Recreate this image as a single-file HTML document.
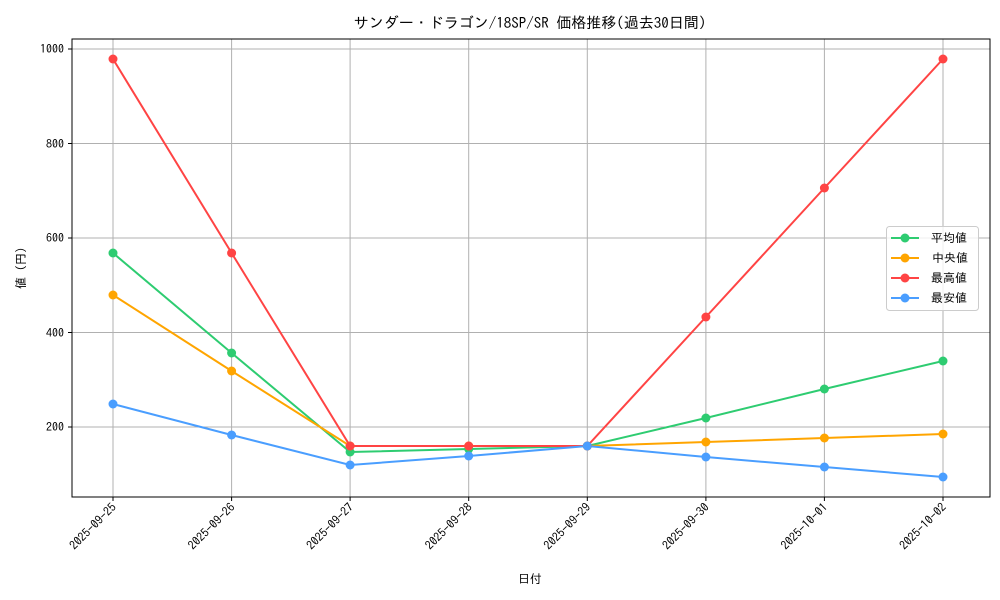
<!DOCTYPE html>
<html><head><meta charset="utf-8"><style>body{margin:0;background:#fff}svg{display:block}text{font-family:"IPAGothic","Noto Sans CJK JP",sans-serif;fill:#000}</style></head><body>
<svg width="1000" height="600" xmlns="http://www.w3.org/2000/svg">
<rect width="1000" height="600" fill="#fff"/>
<g stroke="#b0b0b0" stroke-width="1">
<line x1="113" y1="39" x2="113" y2="497"/><line x1="231.6" y1="39" x2="231.6" y2="497"/><line x1="350.1" y1="39" x2="350.1" y2="497"/><line x1="468.7" y1="39" x2="468.7" y2="497"/><line x1="587.3" y1="39" x2="587.3" y2="497"/><line x1="705.9" y1="39" x2="705.9" y2="497"/><line x1="824.4" y1="39" x2="824.4" y2="497"/><line x1="943" y1="39" x2="943" y2="497"/>
<line x1="72" y1="49" x2="990" y2="49"/><line x1="72" y1="143.5" x2="990" y2="143.5"/><line x1="72" y1="238" x2="990" y2="238"/><line x1="72" y1="332.5" x2="990" y2="332.5"/><line x1="72" y1="427" x2="990" y2="427"/>
</g>
<rect x="72" y="39" width="918" height="458" fill="none" stroke="#000" stroke-width="1"/>
<g stroke="#000"><line x1="68" y1="49" x2="72" y2="49"/><line x1="68" y1="143.5" x2="72" y2="143.5"/><line x1="68" y1="238" x2="72" y2="238"/><line x1="68" y1="332.5" x2="72" y2="332.5"/><line x1="68" y1="427" x2="72" y2="427"/>
<line x1="113" y1="497" x2="113" y2="501"/><line x1="231.6" y1="497" x2="231.6" y2="501"/><line x1="350.1" y1="497" x2="350.1" y2="501"/><line x1="468.7" y1="497" x2="468.7" y2="501"/><line x1="587.3" y1="497" x2="587.3" y2="501"/><line x1="705.9" y1="497" x2="705.9" y2="501"/><line x1="824.4" y1="497" x2="824.4" y2="501"/><line x1="943" y1="497" x2="943" y2="501"/></g>
<g font-size="12" text-anchor="end"><text x="64" y="53">1000</text><text x="64" y="148">800</text><text x="64" y="242">600</text><text x="64" y="337">400</text><text x="64" y="431">200</text></g>
<g font-size="12" text-anchor="end">
<text transform="translate(117,508) rotate(-45)">2025-09-25</text><text transform="translate(235.6,508) rotate(-45)">2025-09-26</text><text transform="translate(354.1,508) rotate(-45)">2025-09-27</text><text transform="translate(472.7,508) rotate(-45)">2025-09-28</text><text transform="translate(591.3,508) rotate(-45)">2025-09-29</text><text transform="translate(709.9,508) rotate(-45)">2025-09-30</text><text transform="translate(828.4,508) rotate(-45)">2025-10-01</text><text transform="translate(947,508) rotate(-45)">2025-10-02</text></g>
<text x="530" y="583" font-size="12" text-anchor="middle">日付</text>
<text transform="translate(25,268) rotate(-90)" font-size="12" text-anchor="middle">値 (円)</text>
<text x="530" y="28" font-size="15" text-anchor="middle">サンダー・ドラゴン/18SP/SR 価格推移(過去30日間)</text>
<g stroke-width="2" fill="none">
<polyline stroke="#2ecc71" points="113,253 231.6,353 350.1,452 468.7,449 587.3,446 705.9,418 824.4,389 943,361"/>
<polyline stroke="#ffa500" points="113,295 231.6,371 350.1,446 468.7,446 587.3,446 705.9,442 824.4,438 943,434"/>
<polyline stroke="#ff4444" points="113,59 231.6,253 350.1,446 468.7,446 587.3,446 705.9,317 824.4,188 943,59"/>
<polyline stroke="#4a9eff" points="113,404 231.6,435 350.1,465 468.7,456 587.3,446 705.9,457 824.4,467 943,477"/>
</g>
<g fill="#2ecc71"><circle cx="113" cy="253" r="4.5"/><circle cx="231.6" cy="353" r="4.5"/><circle cx="350.1" cy="452" r="4.5"/><circle cx="468.7" cy="449" r="4.5"/><circle cx="587.3" cy="446" r="4.5"/><circle cx="705.9" cy="418" r="4.5"/><circle cx="824.4" cy="389" r="4.5"/><circle cx="943" cy="361" r="4.5"/></g>
<g fill="#ffa500"><circle cx="113" cy="295" r="4.5"/><circle cx="231.6" cy="371" r="4.5"/><circle cx="350.1" cy="446" r="4.5"/><circle cx="468.7" cy="446" r="4.5"/><circle cx="587.3" cy="446" r="4.5"/><circle cx="705.9" cy="442" r="4.5"/><circle cx="824.4" cy="438" r="4.5"/><circle cx="943" cy="434" r="4.5"/></g>
<g fill="#ff4444"><circle cx="113" cy="59" r="4.5"/><circle cx="231.6" cy="253" r="4.5"/><circle cx="350.1" cy="446" r="4.5"/><circle cx="468.7" cy="446" r="4.5"/><circle cx="587.3" cy="446" r="4.5"/><circle cx="705.9" cy="317" r="4.5"/><circle cx="824.4" cy="188" r="4.5"/><circle cx="943" cy="59" r="4.5"/></g>
<g fill="#4a9eff"><circle cx="113" cy="404" r="4.5"/><circle cx="231.6" cy="435" r="4.5"/><circle cx="350.1" cy="465" r="4.5"/><circle cx="468.7" cy="456" r="4.5"/><circle cx="587.3" cy="446" r="4.5"/><circle cx="705.9" cy="457" r="4.5"/><circle cx="824.4" cy="467" r="4.5"/><circle cx="943" cy="477" r="4.5"/></g>
<rect x="886.5" y="226.5" width="92" height="84" rx="3" fill="#fff" fill-opacity="0.8" stroke="#ccc"/>
<g stroke-width="2"><line x1="891" y1="238" x2="919" y2="238" stroke="#2ecc71"/><line x1="891" y1="258" x2="919" y2="258" stroke="#ffa500"/><line x1="891" y1="278" x2="919" y2="278" stroke="#ff4444"/><line x1="891" y1="298" x2="919" y2="298" stroke="#4a9eff"/></g>
<circle cx="905" cy="238" r="4.5" fill="#2ecc71"/><circle cx="905" cy="258" r="4.5" fill="#ffa500"/><circle cx="905" cy="278" r="4.5" fill="#ff4444"/><circle cx="905" cy="298" r="4.5" fill="#4a9eff"/>
<g font-size="12"><text x="931" y="242">平均値</text><text x="932" y="262">中央値</text><text x="931" y="282">最高値</text><text x="931" y="302">最安値</text></g>
</svg>
</body></html>
